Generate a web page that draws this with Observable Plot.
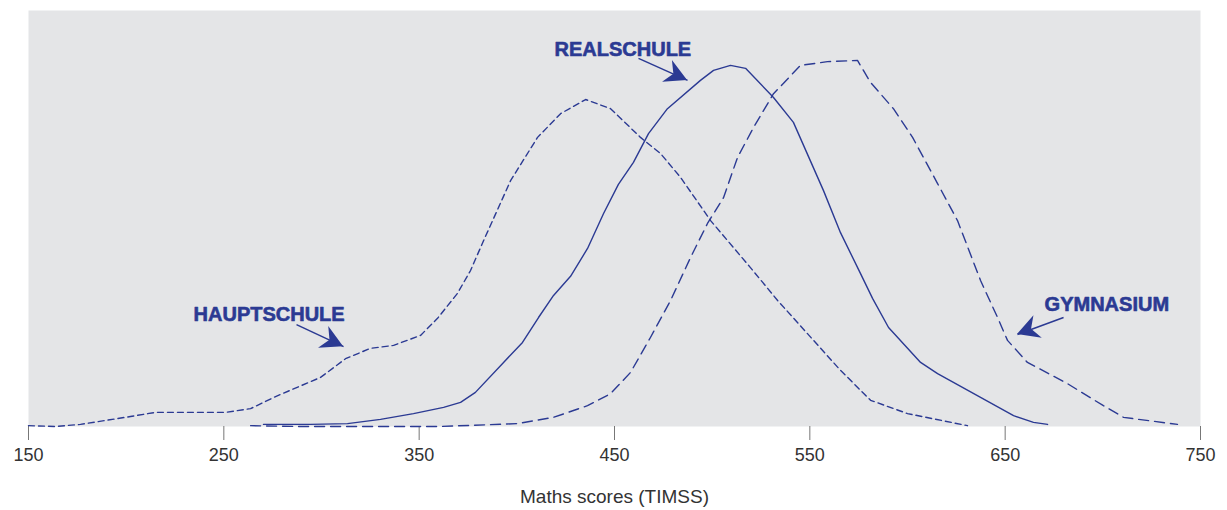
<!DOCTYPE html>
<html>
<head>
<meta charset="utf-8">
<script src="https://cdn.jsdelivr.net/npm/d3@7"></script>
<script src="https://cdn.jsdelivr.net/npm/@observablehq/plot@0.6"></script>
<style>
  html, body { margin: 0; padding: 0; background: #ffffff; }
  #chart { width: 1227px; height: 510px; }
</style>
</head>
<body>
<div id="chart"></div>
<script>
// ---- data (maths score, relative frequency, top of panel = 100) ----
const hauptScore = [150, 163.8, 176.6, 202.2, 215, 227.8, 250.9, 263.7, 276.5, 299.5, 312.3, 325.1, 336.9, 350.7, 359.4, 369.6, 376.3, 383, 396.8, 410.6, 422.4, 435.2, 448, 463.3, 473.6, 483.8, 499.2, 519.6, 533.5, 551.9, 565.7, 581.1, 600, 630.7];
const hauptValue = [0.2, 0, 0.5, 2.4, 3.4, 3.4, 3.4, 4.3, 7.2, 11.8, 16.3, 18.8, 19.5, 21.9, 26.0, 32.0, 37.5, 44.7, 59.1, 69.5, 75.2, 78.6, 76.4, 69.5, 65.6, 59.9, 49.5, 38.2, 30.3, 20.7, 13.5, 6.3, 3.1, 0.2];

const realScore = [270.3, 294.4, 313.3, 330.2, 347.1, 362.5, 371.2, 378.8, 393.2, 402.9, 411.1, 418.8, 427.5, 436.2, 444.4, 452, 459.7, 467.4, 477.1, 494, 500.7, 509.4, 517.1, 531.4, 541.6, 557, 565.7, 575.9, 582.1, 590.3, 606.7, 615.4, 637.4, 654.3, 664.5, 671.7];
const realValue = [0.5, 0.5, 0.7, 1.7, 3.1, 4.6, 5.8, 8.2, 15.4, 20.2, 26.2, 31.5, 36.1, 42.8, 51.2, 58.2, 63.5, 70.4, 76.4, 83.2, 85.6, 86.8, 86.1, 79.1, 73.1, 56.7, 46.6, 36.8, 30.8, 23.8, 15.4, 12.7, 7.0, 2.6, 1.0, 0.5];

const gymScore = [263.7, 289.3, 360.9, 400.3, 418.8, 436.2, 448, 458.2, 468.4, 478.7, 488.9, 497.6, 505.8, 513, 521.2, 531.4, 545.2, 559, 574.4, 581.1, 592.8, 602.6, 615.4, 625.6, 637.4, 646.1, 651.2, 661.4, 681.9, 700.3, 710.6, 738.2];
const gymValue = [0.2, 0, 0, 0.7, 2.2, 5.0, 7.9, 13.0, 21.4, 30.3, 40.6, 48.8, 55.0, 64.7, 71.9, 80.0, 86.8, 87.7, 88.0, 82.7, 76.4, 69.5, 58.4, 49.5, 35.1, 26.2, 20.7, 15.4, 10.3, 5.0, 2.2, 0.5];

// labels and arrows
const labelNames = ["HAUPTSCHULE", "REALSCHULE", "GYMNASIUM"];
const labelScore = [234.5, 419.3, 670.2];
const labelValue = [27.0, 90.7, 29.2];
const arrowFromScore = [287.2, 462.3, 679.9];
const arrowFromValue = [24.5, 88.5, 26.2];
const arrowToScore = [311.3, 487.4, 656.3];
const arrowToValue = [19.2, 83.2, 22.1];

const tickValues = [150, 250, 350, 450, 550, 650, 750];
const axisTitle = "Maths scores (TIMSS)";

// ---- build tables ----
const blue = "#2b3a93";
const haupt = hauptScore.map((s, i) => ({score: s, value: hauptValue[i]}));
const real = realScore.map((s, i) => ({score: s, value: realValue[i]}));
const gym = gymScore.map((s, i) => ({score: s, value: gymValue[i]}));
const labels = labelNames.map((n, i) => ({name: n, score: labelScore[i], value: labelValue[i]}));
const arrows = labelNames.map((n, i) => ({
  x1: arrowFromScore[i], y1: arrowFromValue[i], x2: arrowToScore[i], y2: arrowToValue[i]
}));

// filled arrowheads drawn through the plot's scales
function arrowHeads(index, scales) {
  const g = d3.create("svg:g").attr("fill", blue).attr("stroke", "none");
  for (const a of arrows) {
    const sx = scales.x(a.x1), sy = scales.y(a.y1);
    const tx = scales.x(a.x2), ty = scales.y(a.y2);
    const len = Math.hypot(tx - sx, ty - sy);
    const dx = (tx - sx) / len, dy = (ty - sy) / len;
    const nx = -dy, ny = dx;
    const L = 22, W = 12, N = 15;
    const pts = [
      [tx, ty],
      [tx - L * dx + W * nx, ty - L * dy + W * ny],
      [tx - N * dx, ty - N * dy],
      [tx - L * dx - W * nx, ty - L * dy - W * ny]
    ];
    g.append("path").attr("d", "M" + pts.map(p => p.join(",")).join("L") + "Z");
  }
  return g.node();
}

const chart = Plot.plot({
  width: 1227,
  height: 510,
  marginTop: 10,
  marginBottom: 84,
  marginLeft: 28,
  marginRight: 27,
  style: {fontFamily: "'Liberation Sans', Arial, sans-serif", background: "#ffffff"},
  x: {domain: [150, 750]},
  y: {domain: [0, 100]},
  marks: [
    Plot.frame({fill: "#e4e5e7", stroke: "none"}),
    Plot.axisX({ticks: tickValues, tickFormat: d => String(d), tickSize: 14, tickPadding: 8,
      fontSize: 18, stroke: "#777", fill: "#333", label: null}),
    Plot.axisY({ticks: [], label: null, tickSize: 0}),
    Plot.line(haupt, {x: "score", y: "value", stroke: blue, strokeWidth: 1.4, strokeDasharray: "6,4"}),
    Plot.line(real, {x: "score", y: "value", stroke: blue, strokeWidth: 1.4}),
    Plot.line(gym, {x: "score", y: "value", stroke: blue, strokeWidth: 1.4, strokeDasharray: "10,6"}),
    Plot.link(arrows, {x1: "x1", y1: "y1", x2: "x2", y2: "y2", stroke: blue, strokeWidth: 1.5}),
    arrowHeads,
    Plot.text(labels, {x: "score", y: "value", text: "name", textAnchor: "start", lineAnchor: "middle",
      fontSize: 20, fontWeight: "bold", fill: blue, stroke: blue, strokeWidth: 0.6}),
    Plot.text([axisTitle], {frameAnchor: "bottom", dy: 70, lineAnchor: "middle", fontSize: 19, fill: "#333"})
  ]
});
document.getElementById("chart").appendChild(chart);
</script>
</body>
</html>
